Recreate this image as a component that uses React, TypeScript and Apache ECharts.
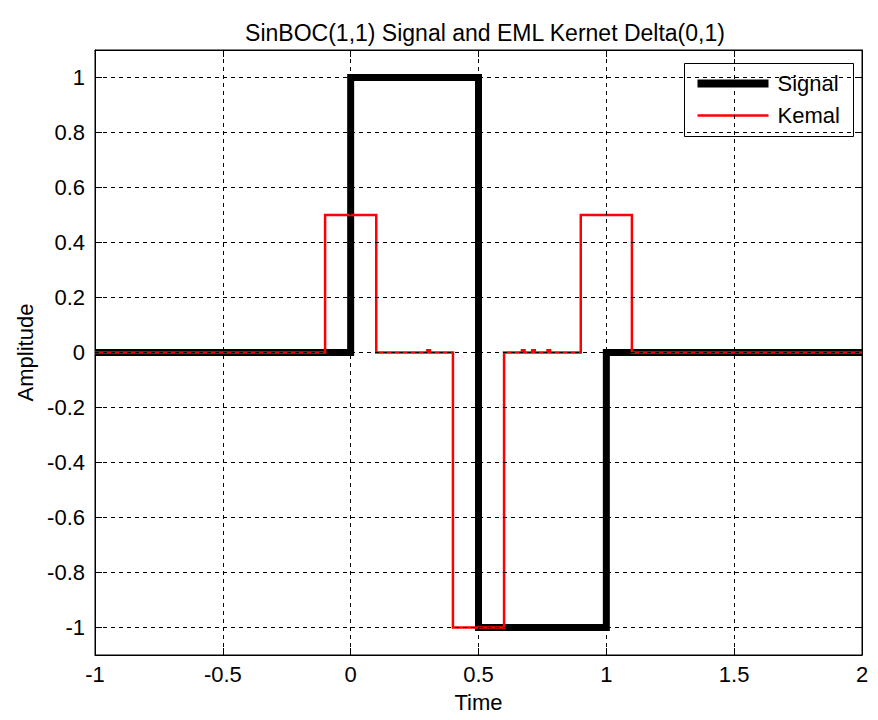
import React, { useEffect, useRef } from "react";
import * as echarts from "echarts";

const titleText = "SinBOC(1,1) Signal and EML Kernet Delta(0,1)";
const seriesNames = ["Signal", "Kemal"];
const signalX = [-1, 0, 0, 0.5, 0.5, 1, 1, 2];
const signalY = [0, 0, 1, 1, -1, -1, 0, 0];
const kernelX = [-1, -0.1, -0.1, 0.1, 0.1, 0.3, 0.3, 0.31, 0.31, 0.4, 0.4, 0.6, 0.6, 0.67, 0.67, 0.68, 0.68, 0.71, 0.71, 0.72, 0.72, 0.77, 0.77, 0.78, 0.78, 0.9, 0.9, 1.1, 1.1, 2];
const kernelY = [0, 0, 0.5, 0.5, 0, 0, 0.008, 0.008, 0, 0, -1, -1, 0, 0, 0.008, 0.008, 0, 0, 0.008, 0.008, 0, 0, 0.008, 0.008, 0, 0, 0.5, 0.5, 0, 0];
const xTicks = [-1, -0.5, 0, 0.5, 1, 1.5, 2];
const yTicks = [-1, -0.8, -0.6, -0.4, -0.2, 0, 0.2, 0.4, 0.6, 0.8, 1];

const FONT = "Liberation Sans, Arial, Helvetica, sans-serif";
const FS = 22;

export default function App() {
  const ref = useRef<HTMLDivElement>(null);
  useEffect(() => {
    if (!ref.current) return;
    const chart = echarts.init(ref.current, null, { renderer: "svg" });
    const fmt = (v: number) => String(Number(v.toFixed(2)));
    const gridX = xTicks.filter((v) => v > -1 && v < 2);
    const colors = ["#000", "#ff0000"];
    const widths = [8, 2.5];
    const option: any = {
      animation: false,
      backgroundColor: "#fff",
      textStyle: { fontFamily: FONT },
      title: {
        text: titleText,
        left: 480,
        top: 16,
        textAlign: "center",
        textStyle: { fontFamily: FONT, fontSize: 23, fontWeight: "normal", color: "#000" },
      },
      grid: {
        left: 95,
        right: 16,
        top: 50,
        bottom: 65,
        show: true,
        borderColor: "#000",
        borderWidth: 1,
        backgroundColor: "#fff",
      },
      xAxis: [
        {
          type: "value",
          min: -1,
          max: 2,
          interval: 0.5,
          position: "bottom",
          name: "Time",
          nameLocation: "middle",
          nameGap: 36,
          nameTextStyle: { fontFamily: FONT, fontSize: FS, color: "#000" },
          axisLine: { show: true, onZero: false, lineStyle: { color: "#000" } },
          axisTick: { show: true, inside: true, length: 7, lineStyle: { color: "#000" } },
          axisLabel: {
            fontFamily: FONT,
            fontSize: FS,
            color: "#000",
            margin: 8,
            formatter: (v: number) => fmt(v),
          },
          splitLine: { show: false },
        },
        {
          type: "value",
          min: -1,
          max: 2,
          interval: 0.5,
          position: "top",
          axisLine: { show: true, onZero: false, lineStyle: { color: "#000" } },
          axisTick: { show: true, inside: true, length: 7, lineStyle: { color: "#000" } },
          axisLabel: { show: false },
          splitLine: { show: false },
        },
      ],
      yAxis: [
        {
          type: "value",
          min: -1.1,
          max: 1.1,
          position: "left",
          name: "Amplitude",
          nameLocation: "middle",
          nameGap: 59,
          nameTextStyle: { fontFamily: FONT, fontSize: FS, color: "#000" },
          axisLine: { show: true, onZero: false, lineStyle: { color: "#000" } },
          axisTick: { show: true, inside: true, length: 7, customValues: yTicks, lineStyle: { color: "#000" } },
          axisLabel: {
            fontFamily: FONT,
            fontSize: FS,
            color: "#000",
            margin: 10,
            customValues: yTicks,
            formatter: (v: number) => fmt(v),
          },
          splitLine: { show: false },
        },
        {
          type: "value",
          min: -1.1,
          max: 1.1,
          position: "right",
          axisLine: { show: true, onZero: false, lineStyle: { color: "#000" } },
          axisTick: { show: true, inside: true, length: 7, customValues: yTicks, lineStyle: { color: "#000" } },
          axisLabel: { show: false },
          splitLine: { show: false },
        },
      ],
      graphic: [
        {
          type: "group",
          left: 684,
          top: 63,
          z: 100,
          children: [
            {
              type: "rect",
              shape: { x: 0, y: 0, width: 169, height: 73 },
              style: { fill: "#fff", stroke: "#000", lineWidth: 1 },
            },
            ...seriesNames.flatMap((n, i) => [
              {
                type: "line",
                shape: { x1: 13, y1: 20 + i * 32, x2: 84, y2: 20 + i * 32 },
                style: { stroke: colors[i], lineWidth: widths[i] },
              },
              {
                type: "text",
                x: 93,
                y: 20 + i * 32,
                style: {
                  text: n,
                  fill: "#000",
                  font: `${FS}px ${FONT}`,
                  verticalAlign: "middle",
                  align: "left",
                },
              },
            ]),
          ],
        },
      ],
      series: [
        {
          name: "gridlines",
          type: "line",
          data: [],
          silent: true,
          z: 1,
          markLine: {
            silent: true,
            symbol: "none",
            label: { show: false },
            animation: false,
            lineStyle: { color: "#000", type: [4, 4], width: 1 },
            data: [
              ...yTicks.map((v) => ({ yAxis: v })),
              ...gridX.map((v) => ({ xAxis: v })),
            ],
          },
        },
        {
          name: seriesNames[0],
          type: "line",
          z: 3,
          showSymbol: false,
          symbol: "none",
          data: signalX.map((x, i) => [x, signalY[i]]),
          lineStyle: { color: colors[0], width: 7, join: "miter", cap: "butt" },
          itemStyle: { color: colors[0] },
        },
        {
          name: seriesNames[1],
          type: "line",
          z: 4,
          showSymbol: false,
          symbol: "none",
          data: kernelX.map((x, i) => [x, kernelY[i]]),
          lineStyle: { color: colors[1], width: 2.5, join: "miter" },
          itemStyle: { color: colors[1] },
        },
      ],
    };
    chart.setOption(option);
    return () => chart.dispose();
  }, []);
  return (
    <div
      ref={ref}
      style={{ position: "fixed", left: 0, top: 0, width: 878, height: 720, background: "#fff" }}
    />
  );
}
